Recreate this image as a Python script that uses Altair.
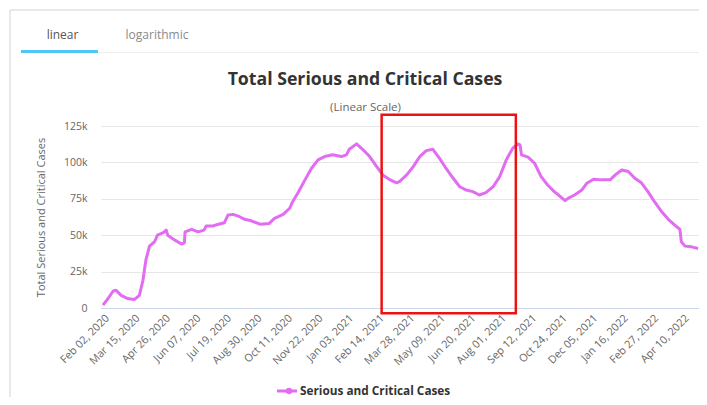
import altair as alt
import pandas as pd

# ---- data ----
dates = [
    "2020-02-02", "2020-02-09", "2020-02-16", "2020-02-20", "2020-02-27", "2020-03-07",
    "2020-03-16", "2020-03-23", "2020-03-28", "2020-04-01", "2020-04-06", "2020-04-13",
    "2020-04-17", "2020-04-25", "2020-04-29", "2020-05-01", "2020-05-11", "2020-05-20",
    "2020-05-24", "2020-05-25", "2020-06-03", "2020-06-12", "2020-06-20", "2020-06-23",
    "2020-07-02", "2020-07-09", "2020-07-18", "2020-07-23", "2020-07-30", "2020-08-08",
    "2020-08-15", "2020-08-24", "2020-09-05", "2020-09-18", "2020-09-25", "2020-10-07",
    "2020-10-16", "2020-10-20", "2020-10-27", "2020-11-06", "2020-11-15", "2020-11-24",
    "2020-12-03", "2020-12-14", "2020-12-26", "2021-01-02", "2021-01-06", "2021-01-16",
    "2021-01-25", "2021-02-03", "2021-02-12", "2021-02-21", "2021-03-02", "2021-03-12",
    "2021-03-16", "2021-03-21", "2021-03-26", "2021-04-04", "2021-04-13", "2021-04-22",
    "2021-05-01", "2021-05-10", "2021-05-19", "2021-05-29", "2021-06-07", "2021-06-16",
    "2021-06-25", "2021-07-04", "2021-07-13", "2021-07-23", "2021-08-01", "2021-08-10",
    "2021-08-19", "2021-08-26", "2021-08-29", "2021-08-31", "2021-09-09", "2021-09-18",
    "2021-09-27", "2021-10-06", "2021-10-15", "2021-10-21", "2021-10-30", "2021-11-03",
    "2021-11-12", "2021-11-22", "2021-11-29", "2021-12-08", "2021-12-19", "2021-12-31",
    "2022-01-07", "2022-01-16", "2022-01-25", "2022-02-03", "2022-02-12", "2022-02-21",
    "2022-03-02", "2022-03-12", "2022-03-21", "2022-03-30", "2022-04-06", "2022-04-08",
    "2022-04-13", "2022-04-22", "2022-05-01",
]
values = [
    2000, 6500, 11700, 12200, 8700, 6500,
    5800, 8700, 19000, 32800, 42500, 45500,
    50000, 51700, 53500, 50000, 46600, 43900,
    44800, 52300, 54000, 52300, 53500, 56300,
    56300, 57400, 58500, 63800, 64300, 62700,
    60900, 59900, 57600, 58100, 61600, 64300,
    68500, 73000, 78800, 88000, 96000, 101700,
    104000, 105200, 104000, 105200, 109000, 112700,
    108600, 104000, 97600, 91400, 88400, 86000,
    86800, 89100, 91400, 97100, 104000, 108100,
    109000, 102900, 96000, 89100, 83300, 81000,
    79900, 77600, 79200, 83300, 90200, 101700,
    109800, 112700, 112000, 105200, 103600, 99400,
    90200, 84500, 79900, 77600, 73700, 75300,
    77600, 81000, 85700, 88400, 88000, 88000,
    91400, 94800, 93700, 89100, 86000, 79900,
    73000, 66100, 60900, 57000, 54000, 45500,
    42500, 42000, 40900,
]

tick_dates = [
    "2020-02-02", "2020-03-15", "2020-04-26", "2020-06-07", "2020-07-19",
    "2020-08-30", "2020-10-11", "2020-11-22", "2021-01-03", "2021-02-14",
    "2021-03-28", "2021-05-09", "2021-06-20", "2021-08-01", "2021-09-12",
    "2021-10-24", "2021-12-05", "2022-01-16", "2022-02-27", "2022-04-10",
]
y_ticks = [0, 25000, 50000, 75000, 100000, 125000]

x_domain = ["2020-01-30T06:00:00", "2022-05-02T07:00:00"]
y_domain = [0, 125000]

# highlighted window (red box)
box_x = ["2021-02-19T12:00:00", "2021-08-23T05:00:00"]
box_y = [132700, -3650]

series_name = "Serious and Critical Cases"
chart_title = "Total Serious and Critical Cases"
chart_subtitle = "(Linear Scale)"
tab_labels = ["linear", "logarithmic"]


def ms(d):
    return int(pd.Timestamp(d, tz="UTC").value // 10**6)


LINE = "#e26cf2"
FONT = "Open Sans"

df = pd.DataFrame({"date": [ms(d) for d in dates], "value": values})

W, H = 598, 182
PAD_L, PAD_T = 93, 118

x_axis = alt.Axis(
    values=[ms(d) for d in tick_dates],
    labelExpr="utcFormat(datum.value, '%b %d, %Y')",
    labelAngle=-45,
    labelAlign="right",
    labelBaseline="top",
    labelPadding=4,
    labelFontSize=10.8,
    labelColor="#666666",
    labelFont=FONT,
    labelOverlap=False,
    labelFlush=False,
    labelBound=False,
    ticks=False,
    grid=False,
    domainColor="#ccd6eb",
    title=None,
)
y_axis = alt.Axis(
    values=y_ticks,
    labelExpr="datum.value == 0 ? '0' : (datum.value / 1000) + 'k'",
    labelFontSize=10.5,
    labelColor="#666666",
    labelFont=FONT,
    labelPadding=14,
    labelOverlap=False,
    labelFlush=False,
    labelBound=False,
    ticks=False,
    domain=False,
    gridColor="#e6e6e6",
    title=chart_title,
    titleFontSize=11,
    titleFontWeight="normal",
    titleColor="#666666",
    titleFont=FONT,
    titlePadding=17,
)
x_scale = alt.Scale(type="utc", domain=[ms(d) for d in x_domain], nice=False)
y_scale = alt.Scale(domain=y_domain, nice=False)

line = alt.Chart(df).mark_line(color=LINE, strokeWidth=3, strokeJoin="round").encode(
    x=alt.X("date:T", scale=x_scale, axis=x_axis),
    y=alt.Y("value:Q", scale=y_scale, axis=y_axis),
)

box_df = pd.DataFrame({"date": [ms(box_x[0])], "date2": [ms(box_x[1])],
                       "value": [box_y[0]], "value2": [box_y[1]]})
box = alt.Chart(box_df).mark_rect(fillOpacity=0, stroke="#ee1111", strokeWidth=2.5, clip=False).encode(
    x=alt.X("date:T", scale=x_scale, axis=x_axis),
    x2="date2:T",
    y=alt.Y("value:Q", scale=y_scale, axis=y_axis),
    y2="value2:Q",
)

def txt(s, x, y, size, color, weight="normal", align="center", baseline="middle"):
    return alt.Chart(pd.DataFrame({"t": [s]})).mark_text(
        fontSize=size, color=color, fontWeight=weight, font=FONT, align=align, baseline=baseline
    ).encode(text="t:N", x=alt.value(x), y=alt.value(y))

def hrule(x1, x2, y, color, width):
    return alt.Chart(pd.DataFrame({"a": [0]})).mark_rule(color=color, strokeWidth=width).encode(
        x=alt.value(x1), x2=alt.value(x2), y=alt.value(y))

def vrule(x, y1, y2, color, width):
    return alt.Chart(pd.DataFrame({"a": [0]})).mark_rule(color=color, strokeWidth=width).encode(
        x=alt.value(x), y=alt.value(y1), y2=alt.value(y2))

ox, oy = 101, 126  # page position of plot origin
leg_y = 391

layers = [
    line,
    box,
    vrule(10 - ox, 10 - oy, 405 - oy, "#e2e2e2", 1.5),
    hrule(10 - ox, 707 - ox, 10 - oy, "#e2e2e2", 1.5),
    hrule(98 - ox, 707 - ox, 52.5 - oy, "#eeeeee", 1),
    hrule(21 - ox, 98 - ox, 51.5 - oy, "#4fc6f5", 3),
    txt(tab_labels[0], 62.5 - ox, 35 - oy, 12, "#555555"),
    txt(tab_labels[1], 157 - ox, 35 - oy, 12, "#8a8a8a"),
    txt(chart_title, 365 - ox, 80 - oy, 17.7, "#333333", weight="bold"),
    txt(chart_subtitle, 365.5 - ox, 107.5 - oy, 11.5, "#666666"),
    hrule(277 - ox, 297 - ox, leg_y - oy, LINE, 3),
    alt.Chart(pd.DataFrame({"a": [0]})).mark_point(filled=True, color=LINE, size=40, opacity=1).encode(
        x=alt.value(289 - ox), y=alt.value(leg_y - oy)),
    txt(series_name, 300 - ox, leg_y - oy, 11.8, "#333333", weight="bold", align="left"),
]

chart = alt.layer(*layers).properties(
    width=W, height=H,
    autosize=alt.AutoSizeParams(type="none"),
    padding={"left": PAD_L, "top": PAD_T, "right": 0, "bottom": 389 - PAD_T - H},
    background="white",
).configure_view(stroke=None)

chart.save("out.html", embed_options={"renderer": "svg", "actions": False})
